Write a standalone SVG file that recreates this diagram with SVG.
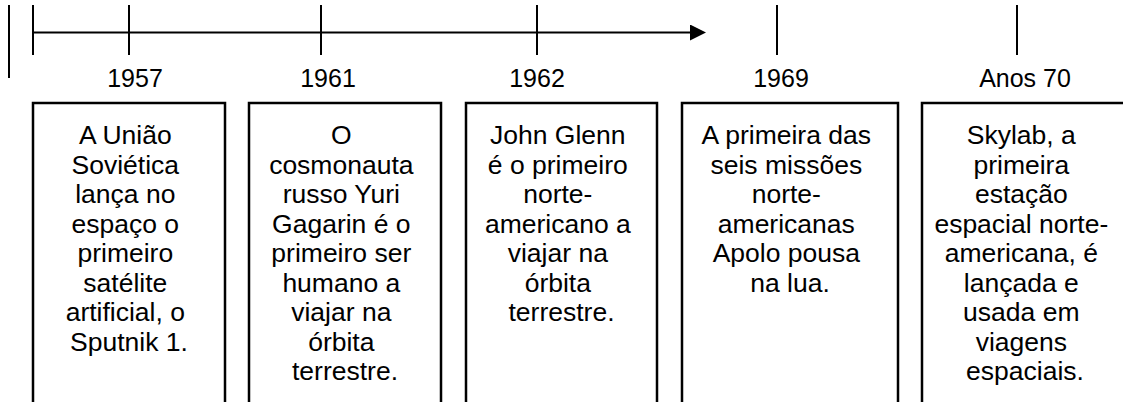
<svg xmlns="http://www.w3.org/2000/svg" width="1123" height="402" viewBox="0 0 1123 402">
  <style>
    .ax { stroke: #000; stroke-width: 2; fill: none; }
    .box { stroke: #000; stroke-width: 2.5; fill: #fff; }
    .yr { font-family: "Liberation Sans", Arial, sans-serif; font-size: 25px; fill: #000; text-anchor: middle; }
    .tx { font-family: "Liberation Sans", Arial, sans-serif; font-size: 26.5px; fill: #000; text-anchor: middle; }
  </style>
  <defs>
    <marker id="arrow" markerUnits="userSpaceOnUse" markerWidth="16" markerHeight="16" refX="0" refY="8" orient="auto">
      <path d="M0,0 L16,8 L0,16 Z" fill="#000"/>
    </marker>
  </defs>
  <rect width="1123" height="402" fill="#fff"/>

  <g id="connectors">
    <line class="ax" x1="33" y1="32.5" x2="690" y2="32.5" marker-end="url(#arrow)"/>
  </g>

  <g id="ticks">
    <line class="ax" x1="9" y1="5" x2="9" y2="78"/>
    <line class="ax" x1="33" y1="5" x2="33" y2="55"/>
    <line class="ax" x1="129" y1="5" x2="129" y2="55"/>
    <line class="ax" x1="321" y1="5" x2="321" y2="55"/>
    <line class="ax" x1="537" y1="5" x2="537" y2="55"/>
    <line class="ax" x1="777" y1="5" x2="777" y2="55"/>
    <line class="ax" x1="1017" y1="5" x2="1017" y2="55"/>
  </g>

  <g id="labels">
    <text class="yr" x="135" y="87">1957</text>
    <text class="yr" x="328" y="87">1961</text>
    <text class="yr" x="537" y="87">1962</text>
    <text class="yr" x="781" y="87">1969</text>
    <text class="yr" x="1025" y="87">Anos 70</text>
  </g>

  <g id="node-1957">
    <rect class="box" x="33" y="103" width="192" height="320"/>
    <text class="tx" x="129" y="144">
      <tspan x="129" dy="0">A União</tspan>
      <tspan x="129" dy="29.5">Soviética</tspan>
      <tspan x="129" dy="29.5">lança no</tspan>
      <tspan x="129" dy="29.5">espaço o</tspan>
      <tspan x="129" dy="29.5">primeiro</tspan>
      <tspan x="129" dy="29.5">satélite</tspan>
      <tspan x="129" dy="29.5">artificial, o</tspan>
      <tspan x="129" dy="29.5">Sputnik 1.</tspan>
    </text>
  </g>

  <g id="node-1961">
    <rect class="box" x="249" y="103" width="192" height="320"/>
    <text class="tx" x="345" y="144">
      <tspan x="345" dy="0">O</tspan>
      <tspan x="345" dy="29.5">cosmonauta</tspan>
      <tspan x="345" dy="29.5">russo Yuri</tspan>
      <tspan x="345" dy="29.5">Gagarin é o</tspan>
      <tspan x="345" dy="29.5">primeiro ser</tspan>
      <tspan x="345" dy="29.5">humano a</tspan>
      <tspan x="345" dy="29.5">viajar na</tspan>
      <tspan x="345" dy="29.5">órbita</tspan>
      <tspan x="345" dy="29.5">terrestre.</tspan>
    </text>
  </g>

  <g id="node-1962">
    <rect class="box" x="466" y="103" width="191" height="320"/>
    <text class="tx" x="561.5" y="144">
      <tspan x="561.5" dy="0">John Glenn</tspan>
      <tspan x="561.5" dy="29.5">é o primeiro</tspan>
      <tspan x="561.5" dy="29.5">norte-</tspan>
      <tspan x="561.5" dy="29.5">americano a</tspan>
      <tspan x="561.5" dy="29.5">viajar na</tspan>
      <tspan x="561.5" dy="29.5">órbita</tspan>
      <tspan x="561.5" dy="29.5">terrestre.</tspan>
    </text>
  </g>

  <g id="node-1969">
    <rect class="box" x="682" y="103" width="216" height="320"/>
    <text class="tx" x="790" y="144">
      <tspan x="790" dy="0">A primeira das</tspan>
      <tspan x="790" dy="29.5">seis missões</tspan>
      <tspan x="790" dy="29.5">norte-</tspan>
      <tspan x="790" dy="29.5">americanas</tspan>
      <tspan x="790" dy="29.5">Apolo pousa</tspan>
      <tspan x="790" dy="29.5">na lua.</tspan>
    </text>
  </g>

  <g id="node-anos70">
    <rect class="box" x="922" y="103" width="220" height="320"/>
    <text class="tx" x="1025" y="144">
      <tspan x="1025" dy="0">Skylab, a</tspan>
      <tspan x="1025" dy="29.5">primeira</tspan>
      <tspan x="1025" dy="29.5">estação</tspan>
      <tspan x="1025" dy="29.5">espacial norte-</tspan>
      <tspan x="1025" dy="29.5">americana, é</tspan>
      <tspan x="1025" dy="29.5">lançada e</tspan>
      <tspan x="1025" dy="29.5">usada em</tspan>
      <tspan x="1025" dy="29.5">viagens</tspan>
      <tspan x="1025" dy="29.5">espaciais.</tspan>
    </text>
  </g>
</svg>
